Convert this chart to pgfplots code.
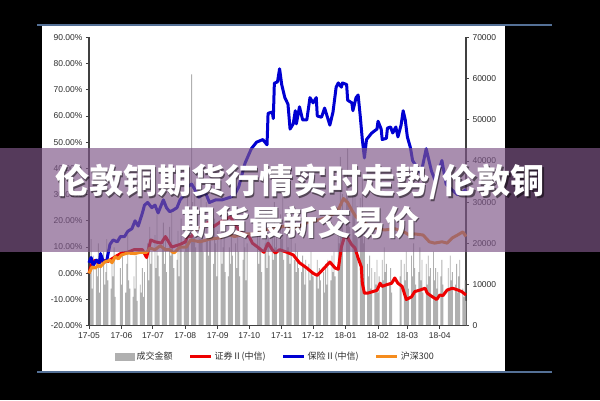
\documentclass[border=0pt]{standalone}
\usepackage{pgfplots}
\pgfplotsset{compat=1.18}
\usepackage{fontspec}
\setmainfont{Liberation Sans}
\newfontfamily\cjk{Noto Sans CJK SC}
\newfontfamily\cjkblack{Noto Sans CJK SC Black}
\definecolor{framecol}{RGB}{84,112,150}
\definecolor{barcol}{RGB}{176,176,176}
\definecolor{redc}{RGB}{238,0,0}
\definecolor{bluec}{RGB}{0,0,210}
\definecolor{orangec}{RGB}{245,140,30}
\definecolor{axiscol}{RGB}{64,64,64}
\definecolor{txt}{RGB}{45,45,45}
\definecolor{banner}{RGB}{127,87,137}
\pgfplotsset{myaxis/.style={scale only axis, width=377pt, height=288.4pt,
  at={(89pt,74.3pt)}, anchor=south west, xmin=0, xmax=360,
  tick align=outside, major tick length=3pt,
  tick style={axiscol, line width=0.8pt},
  axis line style={axiscol, line width=1.4pt},
  ticklabel style={font=\fontsize{8.5}{10}\selectfont, text=txt},
  clip=false}}
\begin{document}
\begin{tikzpicture}[x=1pt,y=1pt]
\fill[black] (0,0) rectangle (600,400);
\fill[white] (42,28) rectangle (505,375);
\draw[framecol, line width=1.5pt] (37,375) -- (552,375);
\draw[framecol, line width=1.5pt] (37,28) -- (552,28);
\begin{axis}[myaxis, ymin=0, ymax=70, axis y line*=right, axis x line=none,
  ytick={0,10,...,70}, yticklabels={0,10000,20000,30000,40000,50000,60000,70000}, xtick=\empty]
\addplot[ybar, bar width=0.82, fill=barcol, draw=none] coordinates {
(1,14)(2,21)(3,9)(4,17)
(7,16)(8,12)(9,20)(10,8)(11,15)
(14,18)(15,10)(16,13)(17,21)(18,11)
(21,9)(22,16)(23,12)(24,19)(25,7)
(30,14)(31,10)(32,17)
(35,8)(36,15)(37,22)(38,11)(39,9)
(42,7)(43,12)(44,9)(45,17)(46,6)
(49,10)(50,8)(51,14)(52,7)(53,13)
(56,20)(57,11)(58,24)(59,15)(60,18)
(63,22)(64,14)(65,27)(66,17)(67,12)
(70,19)(71,25)(72,15)(73,21)(74,13)
(77,24)(78,17)(79,28)(80,19)(81,14)
(84,16)(85,23)(86,12)(87,20)(88,26)
(91,18)(92,29)(93,22)(94,33)(95,20)
(98,61)(99,30)(100,24)(101,35)(102,19)
(105,27)(106,21)(107,32)(108,25)(109,18)
(112,30)(113,22)(114,17)(115,28)(116,24)
(119,15)(120,26)(121,20)(122,12)(123,23)
(126,22)(127,15)(128,19)(129,25)(130,13)
(133,12)(134,19)(135,15)(136,22)(137,17)
(140,20)(141,14)(142,24)(143,18)(144,12)
(147,16)(148,22)(149,19)(150,11)(151,20)
(161,24)(162,15)(163,27)(164,19)(165,13)
(168,20)(169,28)(170,14)(171,22)(172,17)
(175,25)(176,16)(177,30)(178,19)(179,23)
(182,18)(183,27)(184,21)(185,32)(186,16)
(189,26)(190,19)(191,29)(192,15)(193,22)
(196,16)(197,20)(198,13)(199,18)(200,14)
(203,13)(204,17)(205,15)(206,10)(207,16)
(210,15)(211,11)(212,18)(213,13)(214,12)
(217,12)(218,16)(219,9)(220,14)(221,11)
(224,13)(225,8)(226,15)(227,10)(228,16)
(231,11)(232,17)(233,13)(234,18)(235,12)
(238,28)(239,20)(240,41)(241,25)(242,32)
(246,35)(247,43)(248,30)(249,24)
(252,38)(253,27)(254,33)(255,22)(256,29)
(259,31)(260,24)(261,36)(262,20)(263,26)
(266,15)(267,12)(268,17)(269,9)(270,14)
(273,13)(274,10)(275,16)(276,8)(277,12)
(280,16)(281,11)(282,19)(283,13)(284,15)
(287,10)(288,14)(289,8)
(297,12)(298,16)
(301,15)(302,11)(303,18)(304,13)(305,9)
(308,17)(309,12)(310,20)(311,14)(312,10)
(315,13)(316,19)(317,11)(318,16)(319,8)
(322,15)(323,10)(324,17)(325,12)(326,14)
(329,18)(330,11)(331,14)(332,9)(333,13)
(336,12)(337,16)(338,10)
(343,14)(344,9)(345,17)(346,11)(347,13)
(350,10)(351,15)(352,8)(353,12)(354,16)
(357,9)(358,7)(359,11)(360,6)
};
\end{axis}
\begin{axis}[myaxis, ymin=-20, ymax=90, axis y line*=left, axis x line*=bottom,
  ytick={-20,-10,...,90},
  yticklabels={-20.00\%,-10.00\%,0.00\%,10.00\%,20.00\%,30.00\%,40.00\%,50.00\%,60.00\%,70.00\%,80.00\%,90.00\%},
  xtick={0,31,61,92,123,153,184,214,245,276,304,335},
  xticklabels={17-05,17-06,17-07,17-08,17-09,17-10,17-11,17-12,18-01,18-02,18-03,18-04},
  legend columns=4,
  legend style={at={(0.5,0)}, anchor=center, yshift=-31pt, xshift=-2pt, draw=none, fill=none,
    font=\cjk\fontsize{9}{10}\selectfont, text=txt,
    /tikz/every even column/.append style={column sep=14pt}},
  legend image code/.code={\draw[#1] (0pt,0pt) -- (21pt,0pt);}]
\addlegendimage{legend image code/.code={\fill[barcol] (0pt,-3.5pt) rectangle (19pt,3.5pt);}}
\addlegendentry{成交金额}
\addplot[redc, line width=3pt, line join=round] coordinates {
(0,0)(3,4)(6,5)(9,4)(13,5)(18,4.5)(25,6.3)(31,7.7)(37,8)(43,9)(51,9)(55,6)(59,12.7)(63,12)(69,11.5)(73,14)(79,10)(87,11)(92,12)(94,14)(98,14)(101,16.5)(109,17.8)(114,19.6)(119,17.8)(127,20)(135,21.5)(139,19)(143,16.5)(147,15)(153,14)(156,11.5)(161,10)(167,8)(171,11.5)(175,9)(178,7.7)(182,9)(189,8)(195,7)(201,4)(208,2)(214,0)(218,-0.8)(223,1.3)(230,4.3)(235,2)(238,1.5)(241,10)(244,14)(247,13.5)(251,10.8)(254,9.6)(257,5.8)(260,2.5)(261,-3.8)(263,-7.6)(266,-7.6)(275,-6.5)(278,-3.8)(280,-5)(284,-4.4)(289,-3.8)(292,-1.8)(295,-3.8)(299,-5)(303,-10)(308,-9)(311,-7)(316,-6.4)(321,-5.7)(323,-7.6)(328,-9)(332,-10)(335,-8.3)(338,-8.5)(342,-6.4)(347,-5.7)(351,-6.2)(356,-7)(360,-8.3)
};
\addlegendentry{证券Ⅱ(中信)}
\addplot[bluec, line width=3pt, line join=round] coordinates {
(0,4)(2,6)(4,3)(7,5)(10,4)(11,7.5)(14,4)(17,5)(20,11)(23,12.7)(27,12)(30,14)(34,14)(37,16)(41,17)(44,20)(47,18)(51,23)(53,26)(56,27)(60,25)(63,26)(66,23)(71,28)(74,25)(77,23.5)(80,24)(84,25)(87,28)(92,30.5)(94,33)(98,34)(101,32)(105,29)(111,31)(115,27)(121,28)(127,28)(135,29)(139,30)(143,33)(149,42)(155,47.5)(160,50)(166,51)(170,49)(171,61)(175,61.5)(176,59)(177,72.5)(180,73)(182,78)(184,72)(187,67)(190,64.5)(192,55)(195,57)(197,62)(198,57)(201,63.5)(204,58.5)(208,58.5)(211,67)(214,65)(217,67)(218,60)(222,59.5)(225,63)(230,56.5)(233,61.5)(236,71)(238,72.6)(239,72)(241,71)(242,72.6)(246,72)(247,66)(251,65)(252,62)(255,67)(257,68)(259,60)(261,51)(263,44)(265,51)(270,53.5)(275,55)(276,58)(279,55)(280,51)(284,51.5)(285,55.4)(288,55.8)(290,53.5)(293,55.8)(295,52)(298,56.5)(300,62)(302,58.5)(304,52)(307,47.8)(309,43)(313,40.5)(317,38)(322,47.5)(327,39)(331,35)(337,43)(341,34)(346,32)(352,30)(357,31)(360,32)
};
\addlegendentry{保险Ⅱ(中信)}
\addplot[orangec, line width=3pt, line join=round] coordinates {
(0,0)(3,2.4)(6,2)(9,3)(11,2.5)(15,4.3)(20,5)(22,4)(25,6.3)(28,5.5)(31,7)(37,7.7)(44,7.5)(49,8)(55,8)(58,9.6)(63,9)(68,10.5)(73,9)(77,9)(81,7.7)(87,10)(93,10)(97,12.7)(106,12)(115,13)(125,13.5)(132,15)(139,14)(149,15)(156,15)(168,16.5)(177,17)(187,18)(197,17)(206,19)(216,20)(225,21)(235,23)(239,25)(243,28.5)(247,27)(251,24)(255,21.5)(260,20)(268,18)(276,17)(282,16.5)(292,17)(299,16)(302,15.5)(306,14.5)(311,15)(319,14.6)(325,12)(330,11.5)(337,12)(342,11.5)(347,13.5)(352,14.6)(357,15.8)(360,14)
};
\addlegendentry{沪深300}
\end{axis}
\fill[banner, opacity=0.67] (0,148) rectangle (600,252);
\node[text=black, opacity=0.5, font=\cjkblack\fontsize{34}{40}\selectfont, inner sep=0] at (301.5,216.5) {伦敦铜期货行情实时走势/伦敦铜};
\node[text=white, font=\cjkblack\fontsize{34}{40}\selectfont, inner sep=0] at (300,218) {伦敦铜期货行情实时走势/伦敦铜};
\node[text=black, opacity=0.5, font=\cjkblack\fontsize{34}{40}\selectfont, inner sep=0] at (301.5,176.5) {期货最新交易价};
\node[text=white, font=\cjkblack\fontsize{34}{40}\selectfont, inner sep=0] at (300,178) {期货最新交易价};
\pgfresetboundingbox
\path[use as bounding box] (0,0) rectangle (600,400);
\end{tikzpicture}
\end{document}
